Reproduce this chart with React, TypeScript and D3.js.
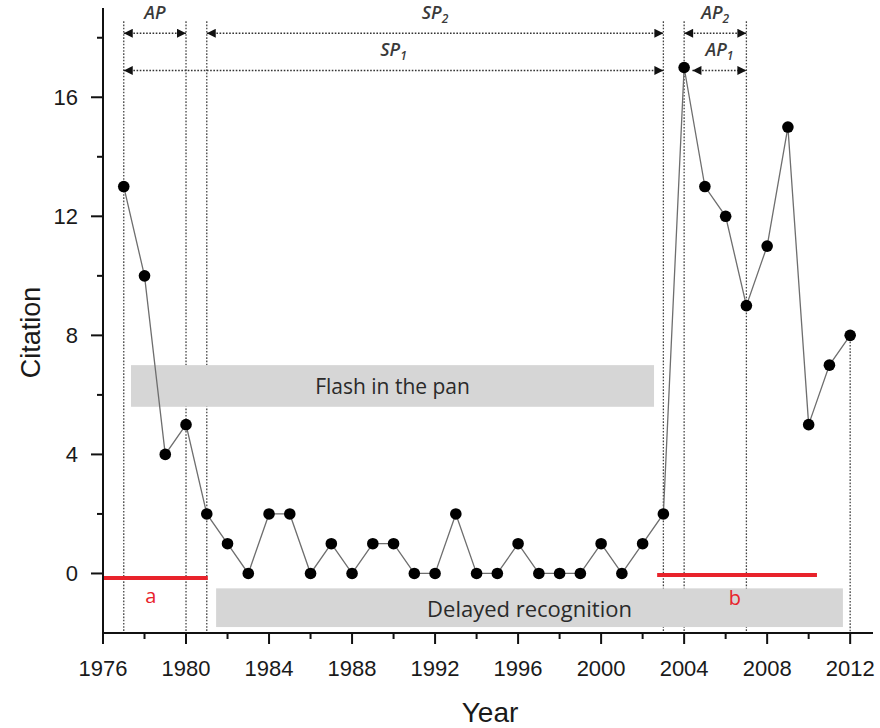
import React from "react";
import * as d3 from "d3";

const years = [1977,1978,1979,1980,1981,1982,1983,1984,1985,1986,1987,1988,1989,1990,1991,1992,1993,1994,1995,1996,1997,1998,1999,2000,2001,2002,2003,2004,2005,2006,2007,2008,2009,2010,2011,2012];
const citations = [13,10,4,5,2,1,0,2,2,0,1,0,1,1,0,0,2,0,0,1,0,0,0,1,0,1,2,17,13,12,9,11,15,5,7,8];

const yMajorTicks = [0,4,8,12,16];
const yMinorTicks = [2,6,10,14,18];
const xMajorTicks = [1976,1980,1984,1988,1992,1996,2000,2004,2008,2012];
const xMinorTicks = [1978,1982,1986,1990,1994,1998,2002,2006,2010];

// vertical dotted guides
const guideYears = [1977,1980,1981,2003,2004,2007];
const guideTop = 18.55;
const guide2012 = { year: 2012, top: 8 };

// arrow spans
const spans = [
  { label: "AP", sub: "", from: 1977, to: 1980, row: 18.15, labelRow: 18.62 },
  { label: "SP", sub: "2", from: 1981, to: 2003, row: 18.15, labelRow: 18.62 },
  { label: "SP", sub: "1", from: 1977, to: 2003, row: 16.9, labelRow: 17.37 },
  { label: "AP", sub: "2", from: 2004, to: 2007, row: 18.15, labelRow: 18.62 },
  { label: "AP", sub: "1", from: 2004.4, to: 2007, row: 16.9, labelRow: 17.37 },
];

const boxes = [
  { text: "Flash in the pan", x0: 1977.35, x1: 2002.55, y0: 7.0, y1: 5.6, size: 21 },
  { text: "Delayed recognition", x0: 1981.45, x1: 2011.65, y0: -0.5, y1: -1.8, size: 22 },
];

const redLines = [
  { label: "a", x0: 1976, x1: 1981.05, y: -0.15, lx: 1978.3, ly: -0.75 },
  { label: "b", x0: 2002.7, x1: 2010.4, y: -0.05, lx: 2006.45, ly: -0.8 },
];

export default function App() {
  const W = 880, H = 728;
  const x = d3.scaleLinear().domain([1976, 2013.1]).range([103, 873]);
  const y = d3.scaleLinear().domain([-2, 19.1]).range([633, 5]);
  const line = d3.line<number>().x((_, i) => x(years[i])).y((d) => y(d));
  const axisFont = "'Liberation Sans', Arial, sans-serif";
  const annFont = "'Open Sans', 'Noto Sans', sans-serif";
  const dash = "1.6,1.6";

  return (
    <svg width={W} height={H} style={{ position: "absolute", left: 0, top: 0, background: "#fff" }}>
      <defs>
        <marker id="arr" viewBox="0 0 10 10" refX="10" refY="5" markerWidth="10" markerHeight="9" markerUnits="userSpaceOnUse" orient="auto-start-reverse">
          <path d="M0,0 L10,5 L0,10 z" fill="#111" />
        </marker>
      </defs>

      {guideYears.map((g) => (
        <line key={g} x1={x(g)} x2={x(g)} y1={y(guideTop)} y2={y(-2)} stroke="#444" strokeWidth={1.3} strokeDasharray={dash} />
      ))}
      <line x1={x(guide2012.year)} x2={x(guide2012.year)} y1={y(guide2012.top)} y2={y(-2)} stroke="#444" strokeWidth={1.3} strokeDasharray={dash} />

      {spans.map((s, i) => (
        <g key={i}>
          <line x1={x(s.from)} x2={x(s.to)} y1={y(s.row)} y2={y(s.row)} stroke="#333" strokeWidth={1.4} strokeDasharray={dash}
            markerStart="url(#arr)" markerEnd="url(#arr)" />
          <text x={(x(s.from) + x(s.to)) / 2} y={y(s.labelRow)} textAnchor="middle" fontFamily={annFont} fontStyle="italic" fontWeight={600} fontSize={18} fill="#3a3a3a">
            {s.label}
            {s.sub && <tspan fontSize={12} dy={4}>{s.sub}</tspan>}
          </text>
        </g>
      ))}

      {boxes.map((b, i) => (
        <g key={i}>
          <rect x={x(b.x0)} y={y(b.y0)} width={x(b.x1) - x(b.x0)} height={y(b.y1) - y(b.y0)} fill="#d6d6d6" />
          <text x={(x(b.x0) + x(b.x1)) / 2} y={(y(b.y0) + y(b.y1)) / 2} textAnchor="middle" dominantBaseline="central" fontFamily={annFont} fontSize={b.size} fill="#2a2a2a">
            {b.text}
          </text>
        </g>
      ))}

      {redLines.map((r, i) => (
        <g key={i}>
          <line x1={x(r.x0)} x2={x(r.x1)} y1={y(r.y)} y2={y(r.y)} stroke="#e8232b" strokeWidth={4} />
          <text x={x(r.lx)} y={y(r.ly)} textAnchor="middle" dominantBaseline="central" fontFamily={annFont} fontSize={20} fill="#e8232b">{r.label}</text>
        </g>
      ))}

      <path d={line(citations) || ""} fill="none" stroke="#6e6e6e" strokeWidth={1.3} />
      {citations.map((c, i) => (
        <circle key={i} cx={x(years[i])} cy={y(c)} r={5.8} fill="#000" />
      ))}

      <line x1={x(1976)} x2={x(1976)} y1={y(19.0)} y2={y(-2)} stroke="#111" strokeWidth={2} />
      <line x1={x(1976) - 1} x2={x(2013.1)} y1={y(-2)} y2={y(-2)} stroke="#111" strokeWidth={2} />
      {yMajorTicks.map((t) => (
        <g key={t}>
          <line x1={x(1976) - 12} x2={x(1976)} y1={y(t)} y2={y(t)} stroke="#111" strokeWidth={2} />
          <text x={x(1976) - 25} y={y(t)} textAnchor="end" dominantBaseline="central" fontFamily={axisFont} fontSize={22} fill="#1a1a1a">{t}</text>
        </g>
      ))}
      {yMinorTicks.map((t) => (
        <line key={t} x1={x(1976) - 6} x2={x(1976)} y1={y(t)} y2={y(t)} stroke="#111" strokeWidth={2} />
      ))}
      {xMajorTicks.map((t) => (
        <g key={t}>
          <line x1={x(t)} x2={x(t)} y1={y(-2)} y2={y(-2) + 11} stroke="#111" strokeWidth={2} />
          <text x={x(t)} y={y(-2) + 43} textAnchor="middle" fontFamily={axisFont} fontSize={22} fill="#1a1a1a">{t}</text>
        </g>
      ))}
      {xMinorTicks.map((t) => (
        <line key={t} x1={x(t)} x2={x(t)} y1={y(-2)} y2={y(-2) + 6} stroke="#111" strokeWidth={2} />
      ))}

      <text x={490} y={722} textAnchor="middle" fontFamily={axisFont} fontSize={28} fill="#1a1a1a">Year</text>
      <text transform={`translate(40,${y(8.1)}) rotate(-90)`} textAnchor="middle" fontFamily={axisFont} fontSize={27} fill="#1a1a1a">Citation</text>
    </svg>
  );
}
